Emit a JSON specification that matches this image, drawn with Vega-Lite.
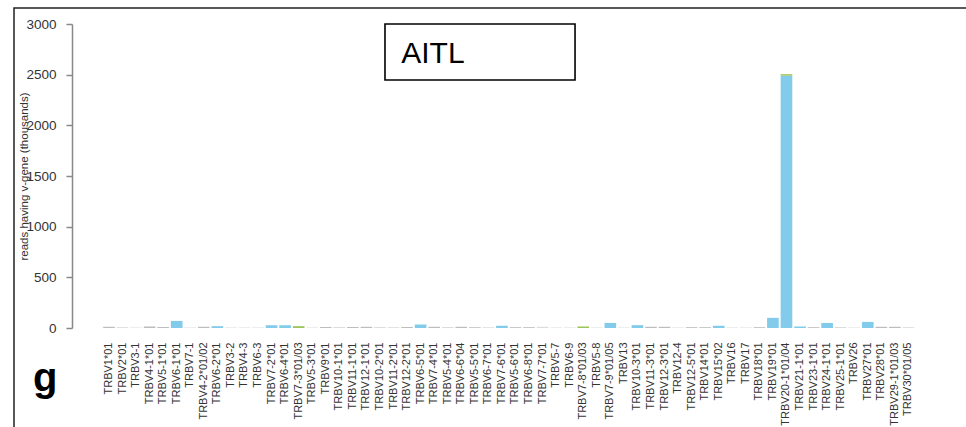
{
  "$schema": "https://vega.github.io/schema/vega-lite/v6.json",
  "width": 954,
  "height": 421,
  "autosize": {"type": "none"},
  "padding": {"left": 14, "top": 8, "right": -2, "bottom": -2},
  "background": "white",
  "config": {
    "font": "Liberation Sans",
    "view": {"stroke": "#222222", "strokeWidth": 1.5}
  },
  "title": {
    "text": "g",
    "orient": "bottom",
    "anchor": "start",
    "font": "Liberation Sans",
    "fontSize": 40,
    "fontWeight": "bold",
    "color": "#000000",
    "offset": 0,
    "dx": 19,
    "dy": -70
  },
  "datasets": {
    "vgenes": [
      {"gene": "TRBV1*01", "reads": 12, "class": "low"},
      {"gene": "TRBV2*01", "reads": 8, "class": "trace"},
      {"gene": "TRBV3-1", "reads": 5, "class": "trace"},
      {"gene": "TRBV4-1*01", "reads": 15, "class": "low"},
      {"gene": "TRBV5-1*01", "reads": 10, "class": "low"},
      {"gene": "TRBV6-1*01", "reads": 70, "class": "expanded"},
      {"gene": "TRBV7-1", "reads": 5, "class": "trace"},
      {"gene": "TRBV4-2*01/02", "reads": 12, "class": "low"},
      {"gene": "TRBV6-2*01", "reads": 18, "class": "expanded"},
      {"gene": "TRBV3-2", "reads": 5, "class": "trace"},
      {"gene": "TRBV4-3", "reads": 5, "class": "trace"},
      {"gene": "TRBV6-3", "reads": 5, "class": "trace"},
      {"gene": "TRBV7-2*01", "reads": 28, "class": "expanded"},
      {"gene": "TRBV6-4*01", "reads": 28, "class": "expanded"},
      {"gene": "TRBV7-3*01/03", "reads": 18, "class": "variant"},
      {"gene": "TRBV5-3*01", "reads": 5, "class": "trace"},
      {"gene": "TRBV9*01", "reads": 10, "class": "low"},
      {"gene": "TRBV10-1*01", "reads": 10, "class": "trace"},
      {"gene": "TRBV11-1*01", "reads": 10, "class": "low"},
      {"gene": "TRBV12-1*01", "reads": 12, "class": "low"},
      {"gene": "TRBV10-2*01", "reads": 10, "class": "trace"},
      {"gene": "TRBV11-2*01", "reads": 8, "class": "trace"},
      {"gene": "TRBV12-2*01", "reads": 10, "class": "low"},
      {"gene": "TRBV6-5*01", "reads": 35, "class": "expanded"},
      {"gene": "TRBV7-4*01", "reads": 12, "class": "low"},
      {"gene": "TRBV5-4*01", "reads": 10, "class": "trace"},
      {"gene": "TRBV6-6*04", "reads": 12, "class": "low"},
      {"gene": "TRBV5-5*01", "reads": 8, "class": "low"},
      {"gene": "TRBV6-7*01", "reads": 8, "class": "trace"},
      {"gene": "TRBV7-6*01", "reads": 22, "class": "expanded"},
      {"gene": "TRBV5-6*01", "reads": 8, "class": "low"},
      {"gene": "TRBV6-8*01", "reads": 8, "class": "low"},
      {"gene": "TRBV7-7*01", "reads": 12, "class": "trace"},
      {"gene": "TRBV5-7", "reads": 5, "class": "trace"},
      {"gene": "TRBV6-9", "reads": 5, "class": "trace"},
      {"gene": "TRBV7-8*01/03", "reads": 15, "class": "variant"},
      {"gene": "TRBV5-8", "reads": 5, "class": "trace"},
      {"gene": "TRBV7-9*01/05", "reads": 50, "class": "expanded"},
      {"gene": "TRBV13", "reads": 5, "class": "trace"},
      {"gene": "TRBV10-3*01", "reads": 28, "class": "expanded"},
      {"gene": "TRBV11-3*01", "reads": 12, "class": "low"},
      {"gene": "TRBV12-3*01", "reads": 12, "class": "low"},
      {"gene": "TRBV12-4", "reads": 5, "class": "trace"},
      {"gene": "TRBV12-5*01", "reads": 8, "class": "low"},
      {"gene": "TRBV14*01", "reads": 8, "class": "low"},
      {"gene": "TRBV15*02", "reads": 22, "class": "expanded"},
      {"gene": "TRBV16", "reads": 5, "class": "trace"},
      {"gene": "TRBV17", "reads": 5, "class": "trace"},
      {"gene": "TRBV18*01", "reads": 8, "class": "low"},
      {"gene": "TRBV19*01", "reads": 100, "class": "expanded"},
      {"gene": "TRBV20-1*01/04", "reads": 2490, "class": "expanded"},
      {"gene": "TRBV20-1*01/04", "reads": 15, "class": "variant"},
      {"gene": "TRBV21-1*01", "reads": 15, "class": "expanded"},
      {"gene": "TRBV23-1*01", "reads": 8, "class": "low"},
      {"gene": "TRBV24-1*01", "reads": 50, "class": "expanded"},
      {"gene": "TRBV25-1*01", "reads": 10, "class": "trace"},
      {"gene": "TRBV26", "reads": 5, "class": "trace"},
      {"gene": "TRBV27*01", "reads": 60, "class": "expanded"},
      {"gene": "TRBV28*01", "reads": 12, "class": "low"},
      {"gene": "TRBV29-1*01/03", "reads": 12, "class": "low"},
      {"gene": "TRBV30*01/05", "reads": 8, "class": "trace"}
    ],
    "panel": [{"label": "AITL"}]
  },
  "layer": [
    {
      "data": {"name": "vgenes"},
      "mark": {"type": "bar"},
      "encoding": {
        "x": {
          "field": "gene",
          "type": "nominal",
          "sort": null,
          "scale": {"range": [88.2, 901.2], "paddingInner": 0.14, "paddingOuter": 0.07},
          "axis": {
            "title": null,
            "domain": false,
            "ticks": false,
            "tickSize": 0,
            "labelAngle": -90,
            "labelFont": "Liberation Sans",
            "labelFontSize": 11,
            "labelColor": "#333333",
            "labelPadding": 14,
            "labelOverlap": false,
            "offset": -101
          }
        },
        "y": {
          "field": "reads",
          "type": "quantitative",
          "stack": "zero",
          "scale": {"domain": [0, 3000], "range": [320, 16], "nice": false},
          "axis": {
            "values": [0, 500, 1000, 1500, 2000, 2500, 3000],
            "format": "d",
            "grid": false,
            "offset": -58,
            "domainColor": "#888888",
            "domainWidth": 1.5,
            "tickColor": "#888888",
            "tickWidth": 1.5,
            "tickSize": 6,
            "labelPadding": 10,
            "labelFont": "Liberation Sans",
            "labelFontSize": 13.5,
            "labelColor": "#333333",
            "title": "reads having v-gene (thousands)",
            "titleFont": "Liberation Sans",
            "titleFontSize": 11.5,
            "titleFontWeight": "normal",
            "titleColor": "#333333",
            "titleX": -43
          }
        },
        "color": {
          "field": "class",
          "type": "nominal",
          "scale": {
            "domain": ["expanded", "variant", "low", "trace"],
            "range": ["#82cbea", "#9cc45a", "#bdbdbd", "#dcdcdc"]
          },
          "legend": null
        },
        "order": {"field": "class", "sort": "ascending"}
      }
    },
    {
      "data": {"name": "panel"},
      "mark": {"type": "rect", "filled": false, "stroke": "#000000", "strokeWidth": 1.6},
      "encoding": {
        "x": {"datum": "TRBV10-2*01", "type": "nominal", "bandPosition": 0.93},
        "x2": {"datum": "TRBV6-9", "bandPosition": 0.96},
        "y": {"datum": 3000, "type": "quantitative"},
        "y2": {"datum": 2447}
      }
    },
    {
      "data": {"name": "panel"},
      "mark": {"type": "text", "align": "left", "baseline": "alphabetic", "font": "Liberation Sans", "fontSize": 30, "color": "#000000"},
      "encoding": {
        "x": {"datum": "TRBV12-2*01", "type": "nominal", "bandPosition": 0.0},
        "y": {"datum": 2612, "type": "quantitative"},
        "text": {"field": "label"}
      }
    }
  ]
}
